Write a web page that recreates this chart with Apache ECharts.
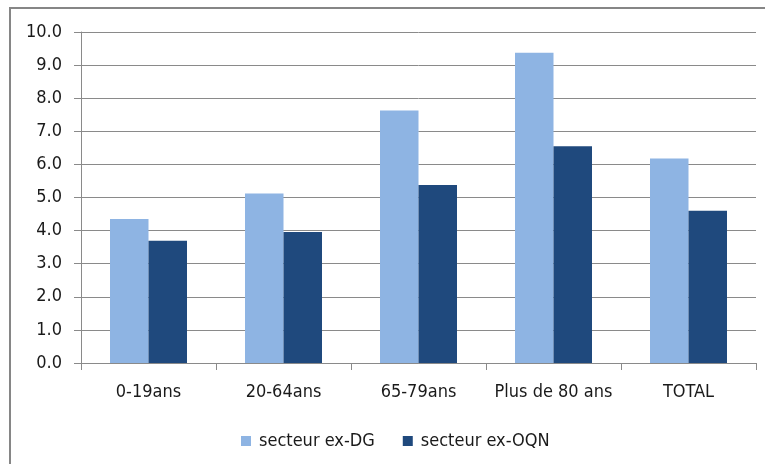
<!DOCTYPE html>
<html>
<head>
<meta charset="utf-8">
<script src="https://cdn.jsdelivr.net/npm/echarts@6/dist/echarts.min.js"></script>
<style>
  html, body { margin: 0; padding: 0; background: #fff; }
  #chart { width: 765px; height: 464px; }
</style>
</head>
<body>
<div id="chart"></div>
<script>
const categories = ["0-19ans", "20-64ans", "65-79ans", "Plus de 80 ans", "TOTAL"];
const exDG = [4.35, 5.12, 7.63, 9.37, 6.18];
const exOQN = [3.69, 3.96, 5.38, 6.55, 4.60];
const seriesNames = ["secteur ex-DG", "secteur ex-OQN"];

const font = "'DejaVu Sans Condensed', 'Liberation Sans', Arial, sans-serif";
const gridGray = "#8a8a8a";
const textColor = "#1a1a1a";

const chart = echarts.init(document.getElementById("chart"), undefined, { renderer: "canvas" });

chart.setOption({
  backgroundColor: "#fff",
  animation: false,
  graphic: [
    {
      type: "rect",
      shape: { x: 10, y: 8, width: 800, height: 500 },
      style: { fill: "none", stroke: "#868686", lineWidth: 2 },
      silent: true,
    },
  ],
  grid: { left: 81, right: 9, top: 32, bottom: 101 },
  legend: {
    top: 427,
    left: 236,
    itemWidth: 10,
    itemHeight: 10,
    itemGap: 28,
    icon: "rect",
    textStyle: { fontFamily: font, fontSize: 18, color: textColor, padding: [0, 0, 0, 3] },
    data: seriesNames,
  },
  xAxis: {
    type: "category",
    data: categories,
    axisLine: { lineStyle: { color: gridGray } },
    axisTick: { show: true, length: 7, lineStyle: { color: gridGray } },
    axisLabel: { interval: 0, fontFamily: font, fontSize: 18, color: textColor, margin: 20 },
  },
  yAxis: {
    type: "value",
    min: 0,
    max: 10,
    interval: 1,
    axisLine: { show: true, lineStyle: { color: gridGray } },
    axisTick: { show: true, length: 7, lineStyle: { color: gridGray } },
    axisLabel: {
      fontFamily: font,
      fontSize: 18,
      color: textColor,
      margin: 19,
      formatter: (v) => v.toFixed(1),
    },
    splitLine: { lineStyle: { color: gridGray, width: 1 } },
  },
  series: [
    {
      name: seriesNames[0],
      type: "bar",
      data: exDG,
      barWidth: 38.5,
      barGap: "0%",
      itemStyle: { color: "#8eb4e3" },
    },
    {
      name: seriesNames[1],
      type: "bar",
      data: exOQN,
      barWidth: 38.5,
      itemStyle: { color: "#1f497d" },
    },
  ],
});
</script>
</body>
</html>
